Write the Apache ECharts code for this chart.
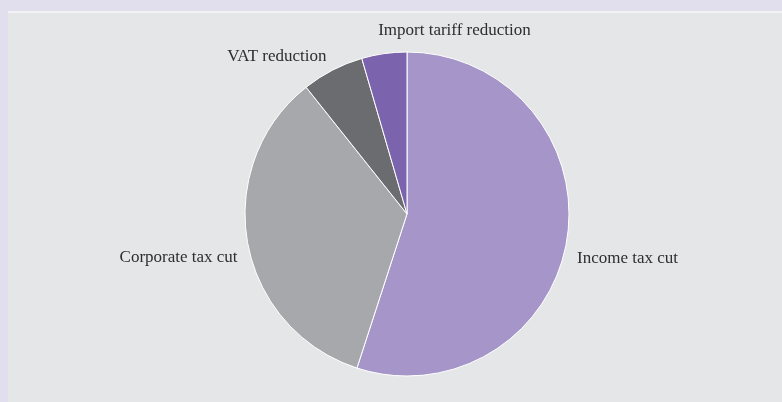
<!DOCTYPE html>
<html>
<head>
<meta charset="utf-8">
<script src="https://cdn.jsdelivr.net/npm/echarts@6/dist/echarts.min.js"></script>
<style>
  html, body { margin: 0; padding: 0; background: #e1dfee; }
  #wrap { position: relative; width: 782px; height: 402px; background: #e1dfee; overflow: hidden; }
  #panel { position: absolute; left: 8px; top: 11px; width: 774px; height: 389px; background: #e5e6e8; border-top: 2px solid #f3f3f5; }
  #chart { position: absolute; left: 0; top: 0; width: 782px; height: 402px; }
</style>
</head>
<body>
<div id="wrap">
  <div id="panel"></div>
  <div id="chart"></div>
</div>
<script>
const categories = ["Income tax cut", "Corporate tax cut", "VAT reduction", "Import tariff reduction"];
const values = [55.0, 34.3, 6.2, 4.5];
const colors = ["#a595c8", "#a7a8ab", "#6b6c6f", "#7b64ad"];
const labelShift = [[5, 19, null], [-5, 15, null], [-1, -14, null], [-1, -23, "left"]];

const chart = echarts.init(document.getElementById('chart'), null, { renderer: 'canvas' });
chart.setOption({
  animation: false,
  backgroundColor: 'transparent',
  series: [{
    type: 'pie',
    center: [407, 214],
    radius: 162,
    startAngle: 90,
    clockwise: true,
    avoidLabelOverlap: false,
    data: categories.map((c, i) => ({ name: c, value: values[i], itemStyle: { color: colors[i] } })),
    itemStyle: { borderColor: '#ffffff', borderWidth: 1 },
    label: {
      show: true,
      position: 'outside',
      formatter: '{b}',
      fontFamily: 'Liberation Serif, serif',
      fontSize: 17,
      color: '#2e2e2e',
      distanceToLabelLine: 5
    },
    labelLine: { show: false, length: 0, length2: 0 },
    labelLayout: function (p) {
      const s = labelShift[p.dataIndex];
      const o = { dx: s[0], dy: s[1] };
      if (s[2]) o.align = s[2];
      return o;
    },
    emphasis: { disabled: true }
  }]
});
</script>
</body>
</html>
